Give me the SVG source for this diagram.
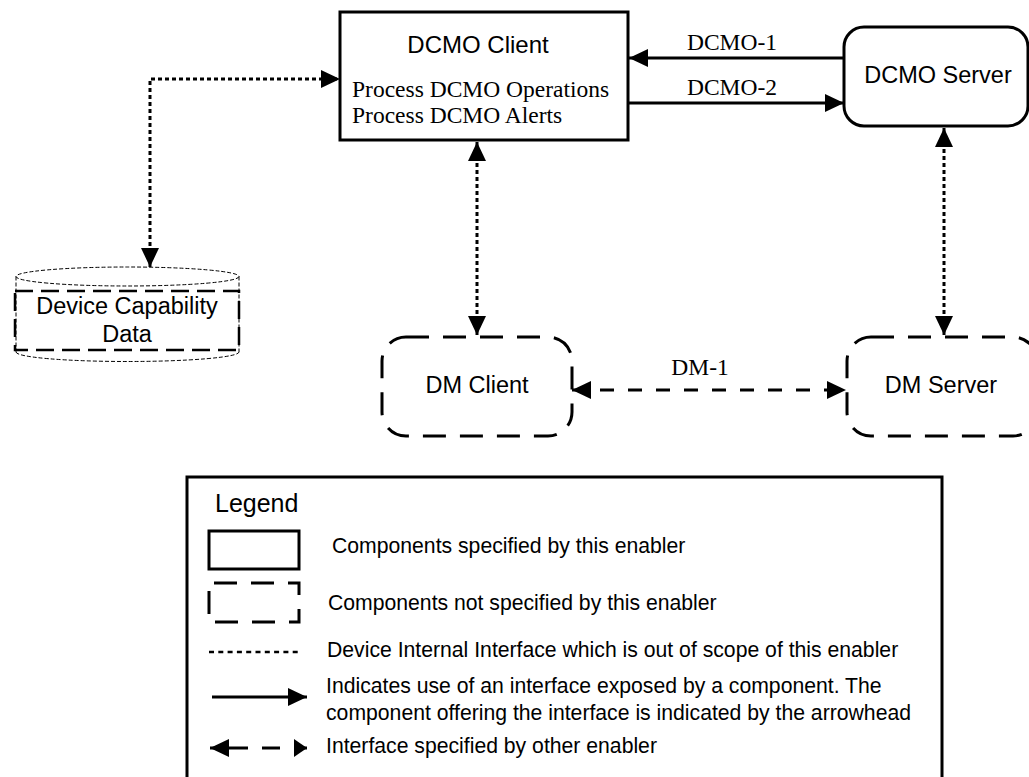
<svg xmlns="http://www.w3.org/2000/svg" width="1029" height="777" viewBox="0 0 1029 777">
<style>
.sans{font-family:"Liberation Sans",Arial,sans-serif;font-size:23.5px;fill:#000}
.lg{font-family:"Liberation Sans",Arial,sans-serif;font-size:21.2px;fill:#000}
.serif{font-family:"Liberation Serif","Times New Roman",serif;font-size:23.5px;fill:#000}
.mid{text-anchor:middle}
.solid{fill:none;stroke:#000;stroke-width:3}
.dashbox{fill:none;stroke:#000;stroke-width:3;stroke-dasharray:23 14}
.dot{fill:none;stroke:#000;stroke-width:3;stroke-dasharray:4 3}
.dmline{fill:none;stroke:#000;stroke-width:3;stroke-dasharray:14 14}
.thin{fill:none;stroke:#000;stroke-width:1;stroke-dasharray:4 2}
.cylbox{fill:none;stroke:#000;stroke-width:2.5;stroke-dasharray:18 8}
</style>
<defs>
<marker id="ah" markerUnits="userSpaceOnUse" markerWidth="19" markerHeight="18" refX="19" refY="9" orient="auto-start-reverse" viewBox="0 0 19 18"><path d="M0,0 L19,9 L0,18 z" fill="#000"/></marker>
<marker id="ah2" markerUnits="userSpaceOnUse" markerWidth="13" markerHeight="18" refX="13" refY="9" orient="auto" viewBox="0 0 13 18"><path d="M0,0 L13,9 L0,18 z" fill="#000"/></marker>
</defs>
<rect x="0" y="0" width="1029" height="777" fill="#fff"/>

<g id="dcmo-client">
<rect class="solid" x="340" y="12" width="288" height="128"/>
<text class="sans mid" x="478" y="53" style="font-size:24px">DCMO Client</text>
<text class="serif" x="352" y="97">Process DCMO Operations</text>
<text class="serif" x="352" y="123">Process DCMO Alerts</text>
</g>

<g id="dcmo-server">
<rect class="solid" x="844" y="27" width="184" height="99" rx="20" ry="20"/>
<text class="sans mid" x="938" y="83">DCMO Server</text>
</g>

<g id="dm-client">
<rect class="dashbox" x="382" y="337" width="190" height="99" rx="24" ry="24"/>
<text class="sans mid" x="477" y="393">DM Client</text>
</g>

<g id="dm-server">
<rect class="dashbox" x="847" y="337" width="190" height="99" rx="24" ry="24"/>
<text class="sans mid" x="941" y="393">DM Server</text>
</g>

<g id="device-capability-data">
<ellipse class="thin" cx="127.5" cy="276.5" rx="111.5" ry="9.5"/>
<path class="thin" d="M16,276.5 L16,352 M239,276.5 L239,352 M16,352 A111.5,9.5 0 0 0 239,352"/>
<rect class="cylbox" x="15" y="291" width="224" height="59"/>
<text class="sans mid" x="127" y="314">Device Capability</text>
<text class="sans mid" x="127" y="342">Data</text>
</g>

<g id="connectors">
<path class="dot" d="M150,267 L150,79 L340,79" marker-start="url(#ah)" marker-end="url(#ah)"/>
<path class="dot" d="M477,142 L477,335" marker-start="url(#ah)" marker-end="url(#ah)"/>
<path class="dot" d="M944,128 L944,335" marker-start="url(#ah)" marker-end="url(#ah)"/>
<path class="solid" d="M844,58 L629,58" marker-end="url(#ah)"/>
<path class="solid" d="M628,103 L844,103" marker-end="url(#ah)"/>
<path class="dmline" d="M572,390 L846,390" marker-start="url(#ah)" marker-end="url(#ah)"/>
<text class="serif mid" x="732" y="50">DCMO-1</text>
<text class="serif mid" x="732" y="95">DCMO-2</text>
<text class="serif mid" x="700" y="375">DM-1</text>
</g>

<g id="legend">
<rect class="solid" x="187" y="477" width="755" height="330"/>
<text class="sans" x="215" y="512" style="font-size:25px">Legend</text>
<rect class="solid" x="209" y="531" width="90" height="38"/>
<text class="lg" x="332" y="553">Components specified by this enabler</text>
<rect class="dashbox" x="209" y="583" width="90" height="39" style="stroke-dashoffset:32"/>
<text class="lg" x="328" y="610">Components not specified by this enabler</text>
<path d="M209,652 L299,652" fill="none" stroke="#000" stroke-width="2.5" stroke-dasharray="5 4.3"/>
<text class="lg" x="327" y="657">Device Internal Interface which is out of scope of this enabler</text>
<path class="solid" d="M212,697 L307,697" marker-end="url(#ah)"/>
<text class="lg" x="326" y="693">Indicates use of an interface exposed by a component. The</text>
<text class="lg" x="326" y="720">component offering the interface is indicated by the arrowhead</text>
<path class="solid" d="M248,748 L210,748" marker-end="url(#ah)"/>
<path class="solid" d="M262,748 L280,748"/>
<path d="M295,748 L307,748" fill="none" stroke="#000" stroke-width="3" marker-end="url(#ah2)"/>
<text class="lg" x="326" y="753">Interface specified by other enabler</text>
</g>
</svg>
